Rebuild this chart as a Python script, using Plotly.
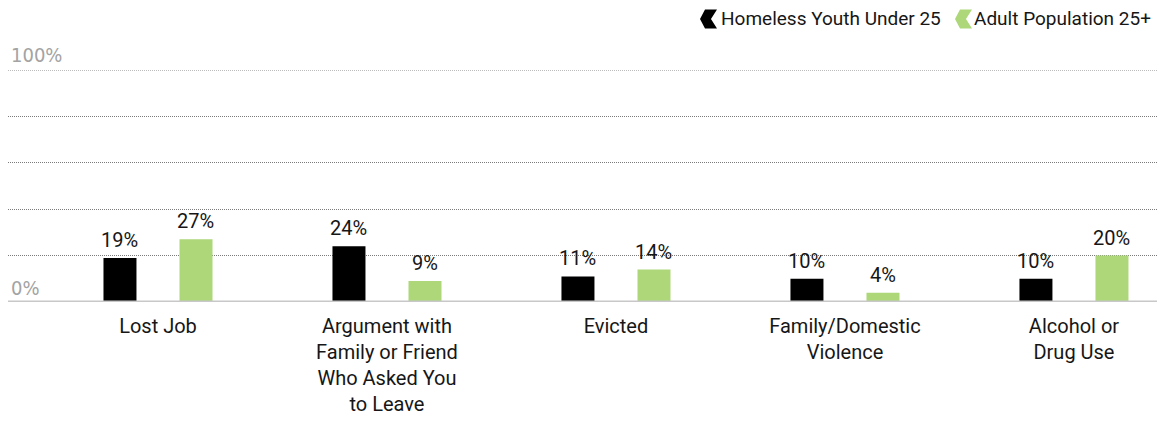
import plotly.graph_objects as go

# Reasons for homelessness, percent of respondents
categories = [
    "Lost Job",
    "Argument with<br>Family or Friend<br>Who Asked You<br>to Leave",
    "Evicted",
    "Family/Domestic<br>Violence",
    "Alcohol or<br>Drug Use",
]
youth_under_25 = [19, 24, 11, 10, 10]
adult_25_plus = [27, 9, 14, 4, 20]
series_names = ["Homeless Youth Under 25", "Adult Population 25+"]
y_tick_labels = ["0%", "100%"]

BLACK = "#000000"
GREEN = "#add778"
FONT = "Roboto, Lato, sans-serif"
TEXT = "#161616"

W, H = 1168, 423
L, R, T, B = 8, 10, 70, 121
PAIR_OFFSET = 38  # px from category centre to each bar centre


def px_x(x):
    return (x - L) / (W - L - R)


def px_y(y):
    return (H - B - y) / (H - T - B)


xs = list(range(len(categories)))

fig = go.Figure()
for name, vals, color in [(series_names[0], youth_under_25, BLACK),
                          (series_names[1], adult_25_plus, GREEN)]:
    fig.add_trace(go.Bar(
        x=xs, y=vals, name=name, marker=dict(color=color, line=dict(width=0)),
        showlegend=False, hoverinfo="x+y",
    ))

# value labels above each bar
for vals, shift in [(youth_under_25, -PAIR_OFFSET), (adult_25_plus, PAIR_OFFSET)]:
    for xi, v in zip(xs, vals):
        fig.add_annotation(x=xi, y=v, text=f"{v}%", xshift=shift, yshift=4,
                           xanchor="center", yanchor="bottom", showarrow=False,
                           font=dict(family=FONT, size=20, color=TEXT))

fig.update_layout(
    width=W, height=H,
    margin=dict(l=L, r=R, t=T, b=B, autoexpand=False),
    paper_bgcolor="white", plot_bgcolor="white",
    barmode="group", bargap=0.336, bargroupgap=0.566,
    font=dict(family=FONT, size=20, color=TEXT),
    xaxis=dict(
        range=[-0.655, 4.367], tickmode="array", tickvals=xs, ticktext=categories,
        showgrid=False, zeroline=False, showline=False, ticks="",
        ticklabelstandoff=10, automargin=False,
        tickfont=dict(family=FONT, size=20, color=TEXT),
        fixedrange=True,
    ),
    yaxis=dict(
        range=[0, 100], dtick=20, showticklabels=False, automargin=False,
        showgrid=True, gridcolor="#7a7a7a", gridwidth=1, griddash="1px,1px",
        zeroline=False, showline=False, fixedrange=True,
    ),
    showlegend=False,
)

# top gridline at 100%
fig.add_shape(type="line", xref="paper", yref="y", x0=0, x1=1, y0=100, y1=100,
              line=dict(color="#7a7a7a", width=1, dash="1px,1px"), layer="below")

# baseline
fig.add_shape(type="line", xref="paper", yref="y", x0=0, x1=px_x(1157), y0=0, y1=0,
              line=dict(color="#c8c8c8", width=3), layer="above")

# axis end labels
for lab, ypix in [(y_tick_labels[1], 55), (y_tick_labels[0], 288)]:
    fig.add_annotation(text=lab, xref="paper", yref="paper", x=px_x(9), y=px_y(ypix),
                       xanchor="left", yanchor="middle", showarrow=False,
                       font=dict(family="Liberation Sans Narrow, DejaVu Sans Condensed, sans-serif",
                                 size=20, color="#a3a3a3"))


# legend: chevron icons + labels
def chevron_paper(xl, yc, color):
    w, h, n = 17, 19, 6
    pts = [(xl + 5, yc - h / 2), (xl + w, yc - h / 2), (xl + w - n, yc),
           (xl + w, yc + h / 2), (xl + 5, yc + h / 2), (xl, yc)]
    path = "M " + " L ".join(f"{px_x(a):.5f},{px_y(b):.5f}" for a, b in pts) + " Z"
    fig.add_shape(type="path", xref="paper", yref="paper", path=path,
                  fillcolor=color, line=dict(width=0))


legend_items = [(series_names[0], BLACK, 700, 719), (series_names[1], GREEN, 955, 972)]
for name, color, ix, tx in legend_items:
    chevron_paper(ix, 19, color)
    fig.add_annotation(text=name, xref="paper", yref="paper", x=px_x(tx), y=px_y(19),
                       xanchor="left", yanchor="middle", showarrow=False,
                       font=dict(family=FONT, size=19, color=TEXT))

fig.write_html("out.html")
